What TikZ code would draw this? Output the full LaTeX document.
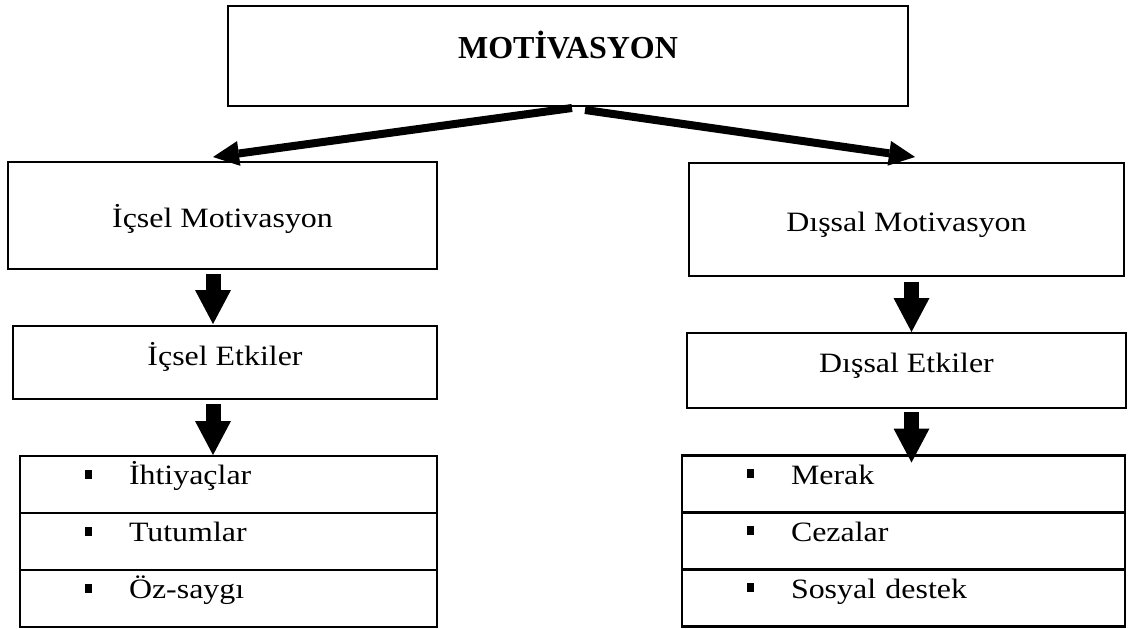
\documentclass[tikz,border=0pt]{standalone}
\usepackage{fontspec}
\setmainfont{Liberation Serif}[FakeStretch=1.14]
\newfontfamily\titlefont{Liberation Serif}
\usetikzlibrary{arrows.meta}
\usetikzlibrary{positioning}

% square bullet in front of a list entry
\newcommand{\sqitem}[1]{\hspace*{32.5pt}\rule[3pt]{3.5pt}{4.5pt}\hspace{18.5pt}#1}

\begin{document}
\begin{tikzpicture}[x=0.5pt,y=-0.5pt,
  every node/.style={font=\fontsize{14pt}{17pt}\selectfont},
  box/.style={draw,line width=1.2pt,inner sep=0pt,outer sep=0pt},
  head/.style={box,text height=12pt,text depth=0.5pt},
  row/.style={box,minimum height=28.5pt,text height=8pt,text depth=8pt,align=left},
  bigarrow/.style={line width=4pt,-{Triangle[length=13pt,width=12.5pt,line width=0pt]}},
  downarrow/.style={line width=7.5pt,-{Triangle[length=17pt,width=18pt,line width=0pt]}}]
  \useasboundingbox (0,0) rectangle (1128,628);

  % columns of the block arrows
  \coordinate (lcol) at (213,0);
  \coordinate (rcol) at (911.5,0);

  \node[box,minimum width=340pt,minimum height=50pt,text height=10pt,text depth=8pt,
    font=\titlefont\fontsize{16pt}{19pt}\selectfont\bfseries]
    (mot) at (568,56) {MOTİVASYON};

  \node[head,minimum width=214.5pt,minimum height=53.5pt] (icm) at (222.5,215.5) {İçsel Motivasyon};
  \node[head,minimum width=217.5pt,minimum height=56.5pt] (dsm) at (906.5,219.5) {Dışsal Motivasyon};

  \node[box,minimum width=212pt,minimum height=36.5pt,text height=10.5pt,text depth=8pt]
    (ice) at (225,362.5) {İçsel Etkiler};
  \node[box,minimum width=219.5pt,minimum height=37.5pt,text height=9.5pt,text depth=8pt]
    (dse) at (906.5,370.5) {Dışsal Etkiler};

  % left list
  \node[row,text width=208.5pt] (l1) at (228.5,484.5) {\sqitem{İhtiyaçlar}};
  \node[row,text width=208.5pt,below=0pt of l1] (l2) {\sqitem{Tutumlar}};
  \node[row,text width=208.5pt,below=0pt of l2] (l3) {\sqitem{Öz-saygı}};

  % right list
  \node[row,text width=221.5pt] (r1) at (903.5,484) {\sqitem{Merak}};
  \node[row,text width=221.5pt,below=0pt of r1] (r2) {\sqitem{Cezalar}};
  \node[row,text width=221.5pt,below=0pt of r2] (r3) {\sqitem{Sosyal destek}};

  \draw[bigarrow] ([xshift=2pt,yshift=-1pt]mot.south) -- ([xshift=-4.75pt,yshift=2.5pt]icm.north);
  \draw[bigarrow] ([xshift=8.5pt,yshift=-2pt]mot.south) -- ([xshift=4.25pt,yshift=3pt]dsm.north);

  \draw[downarrow] ([yshift=-2.5pt]icm.south -| lcol) -- ([yshift=1pt]ice.north -| lcol);
  \draw[downarrow] ([yshift=-2.5pt]ice.south -| lcol) -- ([yshift=0.5pt]l1.north -| lcol);
  \draw[downarrow] ([yshift=-3pt]dsm.south -| rcol) -- ([yshift=0.5pt]dse.north -| rcol);
  \draw[downarrow] ([yshift=-2pt]dse.south -| rcol) -- ([yshift=-3.5pt]r1.north -| rcol);
\end{tikzpicture}
\end{document}
